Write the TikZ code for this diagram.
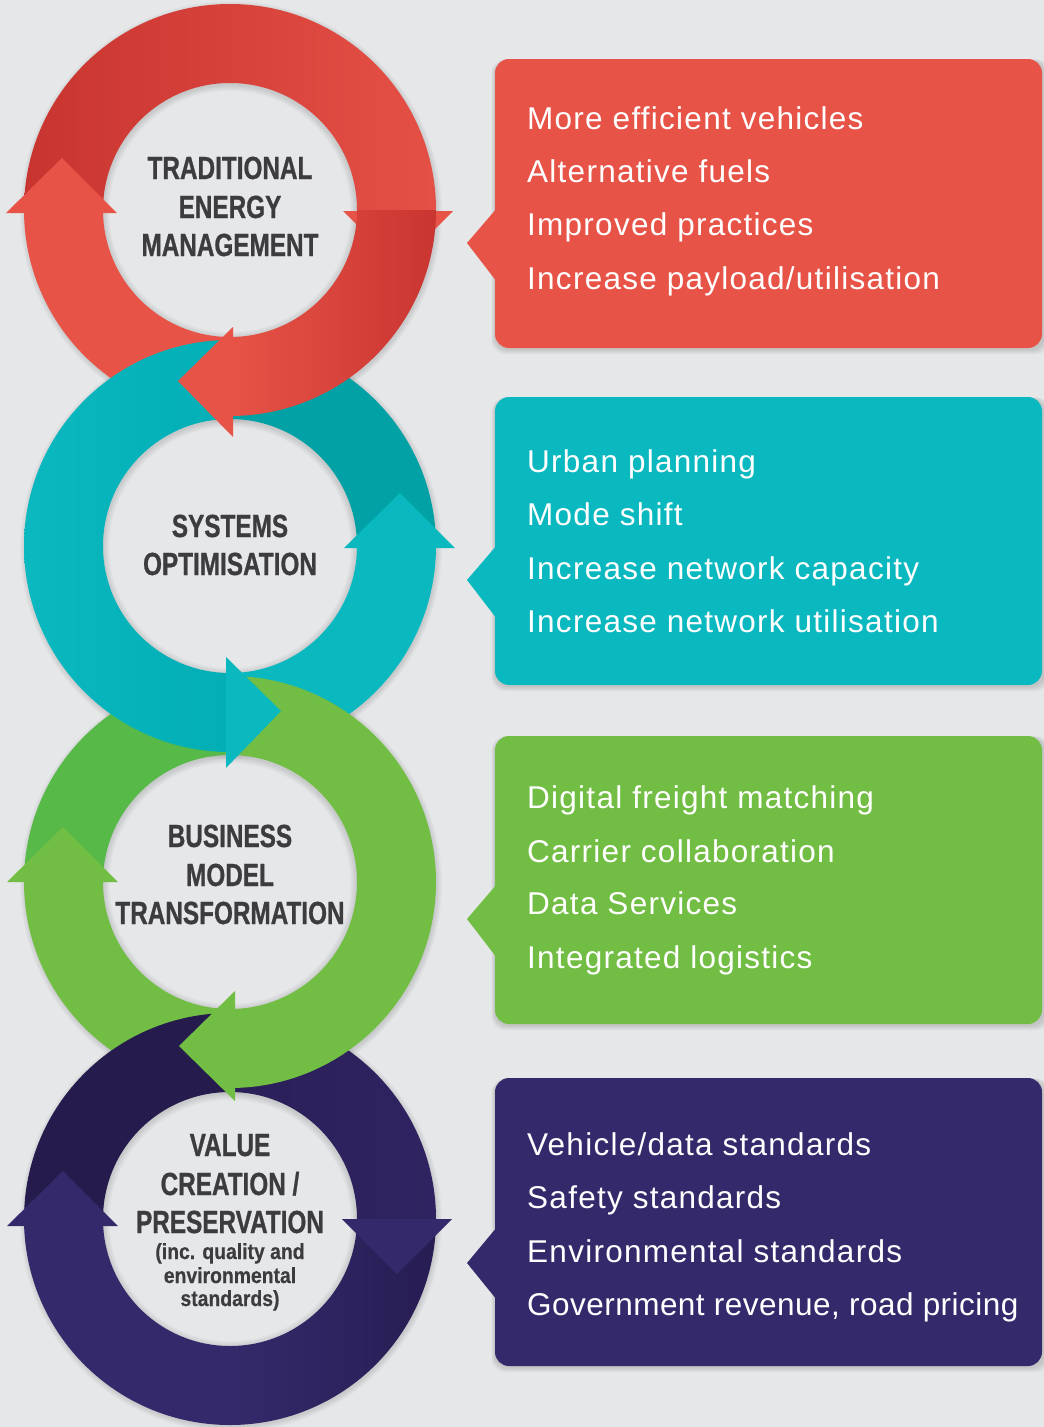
\documentclass[tikz,border=0pt]{standalone}
\usepackage{fontspec}
\setmainfont{Liberation Sans}
\newfontfamily\itemfont[LetterSpace=4.0]{Liberation Sans}
\newfontfamily\condfont[FakeStretch=0.76,FakeBold=0.8]{Liberation Sans Bold}
\newfontfamily\subfont[FakeStretch=0.88,FakeBold=0.5]{Liberation Sans Bold}
\usetikzlibrary{shadings}
\definecolor{bg}{HTML}{E6E7E8}
\definecolor{redL}{HTML}{E85347}
\definecolor{redD}{HTML}{C8342F}
\definecolor{redM}{HTML}{CC3832}
\definecolor{redR}{HTML}{E55046}
\definecolor{redD2}{HTML}{C93530}
\definecolor{tealL}{HTML}{0AB8BF}
\definecolor{tealM}{HTML}{03AEB5}
\definecolor{tealD}{HTML}{02A1A6}
\definecolor{greenL}{HTML}{72BE44}
\definecolor{greenD}{HTML}{56B948}
\definecolor{purL}{HTML}{342A6B}
\definecolor{purD}{HTML}{251C4D}
\definecolor{purD2}{HTML}{2A1F58}
\definecolor{purM}{HTML}{2F2461}
\definecolor{purD3}{HTML}{271D53}
\definecolor{txt}{HTML}{3C3C3E}
\newcommand\ringseg[5]{\path[shift={(#1,#2)},#5] (#3:206) arc[start angle=#3,end angle=#4,radius=206] -- (#4:127) arc[start angle=#4,end angle=#3,radius=127] -- cycle;}
\tikzset{
  box/.style={rectangle, rounded corners=14pt, minimum width=547pt, inner sep=0pt, draw=none},
  item/.style={font=\itemfont\fontsize{31.5}{36}\selectfont, text=white, anchor=base west, inner sep=0pt},
  title/.style={font=\condfont\fontsize{32}{38}\selectfont, text=txt, anchor=base, inner sep=0pt},
  subtitle/.style={font=\subfont\fontsize{22}{24}\selectfont, text=txt, anchor=base, inner sep=0pt},
}
\begin{document}
\begin{tikzpicture}[x=1pt,y=-1pt]
\useasboundingbox (0,0) rectangle (1044,1427);
\fill[bg] (0,0) rectangle (1044,1427);

% soft shadows of the rings (outside the ring and inside the hole)
\foreach \cy in {210,546,882,1219}{
  \foreach \k in {1,...,6}{
    \fill[black,opacity=0.02,even odd rule] (231,\cy+2) circle[radius=205+\k] (230,\cy) circle[radius=190];
    \fill[black,opacity=0.018,even odd rule] (230,\cy) circle[radius=127.5] (230,\cy+1.5) circle[radius=127-1.1*\k];
  }
}

% box shadows
\foreach \t/\b in {59/348,397/685,736/1024,1078/1366}{
  \foreach \k in {1,...,6}
    \fill[black,opacity=0.025,rounded corners=14pt] (495-\k*0.6,\t+2-\k*0.3) rectangle (1044+\k,\b+1+\k*0.9);
}

% ---- ring 1 (red), first parts
\ringseg{230}{210}{90}{180}{fill=redL}
\ringseg{230}{210}{180}{360}{left color=redD,middle color=redM,right color=redR}
\fill[redL] (6,213) -- (62,158) -- (117,213) -- cycle;
\fill[redL] (343,211) -- (398,266) -- (453,211) -- cycle;

% ---- ring 2 (teal), first parts
\ringseg{230}{546}{270}{360}{fill=tealD}
\ringseg{230}{546}{0}{90}{fill=tealL}
\fill[tealL] (344,548) -- (400,493) -- (455,548) -- cycle;

% ---- ring 3 (green), first parts
\ringseg{230}{882}{180}{270}{fill=greenD}
\ringseg{230}{882}{270}{360}{fill=greenL}
\ringseg{230}{882}{90}{180}{fill=greenL}
\fill[greenL] (7,882) -- (63,827) -- (118,882) -- cycle;

% ---- ring 2 (teal), over green
\ringseg{230}{546}{90}{270}{left color=tealL,right color=tealM}
\fill[tealL] (226,657) -- (281,711) -- (226,768) -- cycle;

% ---- ring 1 (red), over teal
\ringseg{230}{210}{0}{90}{left color=redL,right color=redD2}
\fill[redL] (233,327) -- (178,381) -- (233,437) -- cycle;

% ---- ring 4 (purple)
\ringseg{230}{1219}{90}{180}{fill=purL}
\ringseg{230}{1219}{180}{270}{fill=purD}
\ringseg{230}{1219}{270}{360}{left color=purD2,right color=purM}
\ringseg{230}{1219}{0}{90}{left color=purL,right color=purD3}
\fill[purL] (7,1226) -- (63,1171) -- (118,1226) -- cycle;
\fill[purL] (342,1219) -- (397,1274) -- (452,1219) -- cycle;

% ---- ring 3 (green), over purple
\ringseg{230}{882}{0}{90}{fill=greenL}
\fill[greenL] (235,991) -- (179,1046) -- (235,1101) -- cycle;

% ---- ring titles
\node[title] (t1a) at (230,179) {TRADITIONAL};
\node[title] (t1b) at (230,218) {ENERGY};
\node[title] (t1c) at (230,256) {MANAGEMENT};
\node[title] (t2a) at (230,537) {SYSTEMS};
\node[title] (t2b) at (230,575) {OPTIMISATION};
\node[title] (t3a) at (230,847) {BUSINESS};
\node[title] (t3b) at (230,886) {MODEL};
\node[title] (t3c) at (230,924) {TRANSFORMATION};
\node[title] (t4a) at (230,1156) {VALUE};
\node[title] (t4b) at (230,1195) {CREATION /};
\node[title] (t4c) at (230,1233) {PRESERVATION};
\node[subtitle] (t4d) at (230,1259) {(inc. quality and};
\node[subtitle] (t4e) at (230,1283) {environmental};
\node[subtitle] (t4f) at (230,1306) {standards)};

% ---- callout boxes
\node[box, fill=redL, minimum height=289pt] (box1) at (768.5,203.5) {};
\fill[redL] (497,208) -- (467,243) -- (497,282) -- cycle;
\node[box, fill=tealL, minimum height=288pt] (box2) at (768.5,541) {};
\fill[tealL] (497,545) -- (467,580) -- (497,619) -- cycle;
\node[box, fill=greenL, minimum height=288pt] (box3) at (768.5,880) {};
\fill[greenL] (497,884) -- (467,919) -- (497,958) -- cycle;
\node[box, fill=purL, minimum height=288pt] (box4) at (768.5,1222) {};
\fill[purL] (497,1227) -- (467,1263) -- (497,1300) -- cycle;

\node[item] (i1a) at (527,129) {More efficient vehicles};
\node[item] (i1b) at (527,182) {Alternative fuels};
\node[item] (i1c) at (527,235) {Improved practices};
\node[item] (i1d) at (527,289) {Increase payload/utilisation};
\node[item] (i2a) at (527,472) {Urban planning};
\node[item] (i2b) at (527,525) {Mode shift};
\node[item] (i2c) at (527,579) {Increase network capacity};
\node[item] (i2d) at (527,632) {Increase network utilisation};
\node[item] (i3a) at (527,808) {Digital freight matching};
\node[item] (i3b) at (527,862) {Carrier collaboration};
\node[item] (i3c) at (527,914) {Data Services};
\node[item] (i3d) at (527,968) {Integrated logistics};
\node[item] (i4a) at (527,1155) {Vehicle/data standards};
\node[item] (i4b) at (527,1208) {Safety standards};
\node[item] (i4c) at (527,1262) {Environmental standards};
\node[item] (i4d) at (527,1315) {\addfontfeature{LetterSpace=1.5}Government revenue, road pricing};
\end{tikzpicture}
\end{document}
